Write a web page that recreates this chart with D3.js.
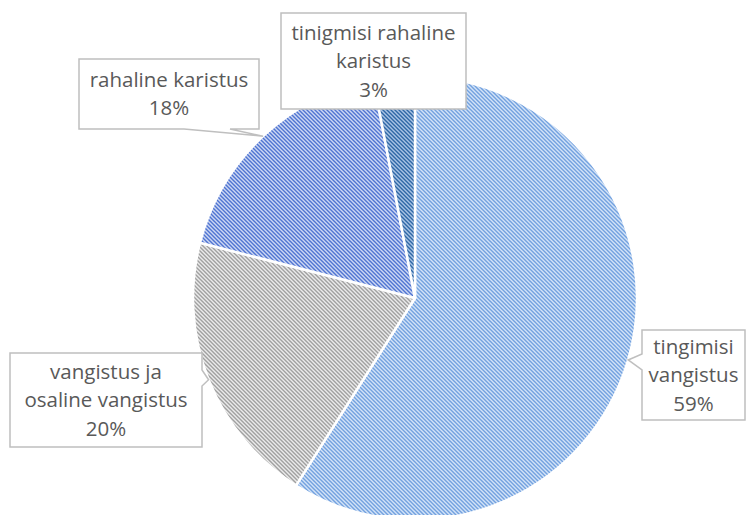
<!DOCTYPE html>
<html>
<head>
<meta charset="utf-8">
<script src="https://cdn.jsdelivr.net/npm/d3@7"></script>
<style>
  body { margin: 0; background: #fff; }
  svg { display: block; }
</style>
</head>
<body>
<svg id="chart" width="747" height="515"></svg>
<script>
// slice data, clockwise from 12 o'clock
const categories = ['tingimisi vangistus', 'vangistus ja osaline vangistus', 'rahaline karistus', 'tinigmisi rahaline karistus'];
const values = [59, 20, 18, 3];
const labelLines = [
  ['tingimisi', 'vangistus', '59%'],
  ['vangistus ja', 'osaline vangistus', '20%'],
  ['rahaline karistus', '18%'],
  ['tinigmisi rahaline', 'karistus', '3%']
];

// hatch colours: background + stripe
const fills = [
  { bg: '#d3e3f7', line: '#72a1df' },
  { bg: '#ebebeb', line: '#a0a0a0' },
  { bg: '#cdd8f3', line: '#4f74d2' },
  { bg: '#a9c4e4', line: '#2e67a6' }
];

// callout boxes (layout only): x, y, w, h, side the pointer leaves from, pointer base
const boxes = [
  { x: 642, y: 330, w: 103, h: 90, side: 'left', b0: 354, b1: 370 },
  { x: 10, y: 353, w: 192, h: 94, side: 'right', b0: 370, b1: 386 },
  { x: 79, y: 59, w: 180, h: 70, side: 'bottom', b0: 184, b1: 230 },
  { x: 281, y: 13, w: 185, h: 96, side: 'none' }
];

const cx = 415, cy = 298, r = 222;
const svg = d3.select('#chart');
const defs = svg.append('defs');

fills.forEach((f, i) => {
  const p = defs.append('pattern')
    .attr('id', 'hatch' + i)
    .attr('patternUnits', 'userSpaceOnUse')
    .attr('width', 4)
    .attr('height', 4);
  p.append('rect').attr('width', 4).attr('height', 4).attr('fill', f.bg);
  p.append('path')
    .attr('d', 'M-1,-1L5,5M3,-1L5,1M-1,3L1,5')
    .attr('stroke', f.line)
    .attr('stroke-width', 1.4);
});

const pie = d3.pie().sort(null).value(d => d);
const arcs = pie(values);
const arc = d3.arc().innerRadius(0).outerRadius(r);
const edge = d3.arc().innerRadius(r).outerRadius(r);

const g = svg.append('g').attr('transform', `translate(${cx},${cy})`);
g.selectAll('path')
  .data(arcs)
  .join('path')
  .attr('d', arc)
  .attr('fill', (d, i) => `url(#hatch${i})`)
  .attr('stroke', '#fff')
  .attr('stroke-width', 2.5)
  .attr('stroke-linejoin', 'round');

// callout boxes with pointer to the slice edge
function calloutPath(b, tip) {
  const x0 = b.x, y0 = b.y, x1 = b.x + b.w, y1 = b.y + b.h;
  const [tx, ty] = tip;
  if (b.side === 'left') {
    return `M${x0},${y0}H${x1}V${y1}H${x0}V${b.b1}L${tx},${ty}L${x0},${b.b0}Z`;
  }
  if (b.side === 'right') {
    return `M${x0},${y0}H${x1}V${b.b0}L${tx},${ty}L${x1},${b.b1}V${y1}H${x0}Z`;
  }
  if (b.side === 'bottom') {
    return `M${x0},${y0}H${x1}V${y1}H${b.b1}L${tx},${ty}L${b.b0},${y1}H${x0}Z`;
  }
  return `M${x0},${y0}H${x1}V${y1}H${x0}Z`;
}

const labels = svg.append('g');
arcs.forEach((d, i) => {
  const b = boxes[i];
  const c = edge.centroid(d);
  const tip = [cx + c[0], cy + c[1]];
  labels.append('path')
    .attr('d', calloutPath(b, tip))
    .attr('fill', '#fff')
    .attr('stroke', '#bfbfbf')
    .attr('stroke-width', 1.5);

  const lines = labelLines[i];
  const lh = 28.5;
  const midY = b.y + b.h / 2;
  const t = labels.append('text')
    .attr('text-anchor', 'middle')
    .attr('font-family', 'Open Sans, sans-serif')
    .attr('font-size', 20.5)
    .attr('fill', '#595959');
  lines.forEach((s, j) => {
    t.append('tspan')
      .attr('x', b.x + b.w / 2)
      .attr('y', midY + (j - (lines.length - 1) / 2) * lh)
      .attr('dy', '0.35em')
      .text(s);
  });
});
</script>
</body>
</html>
